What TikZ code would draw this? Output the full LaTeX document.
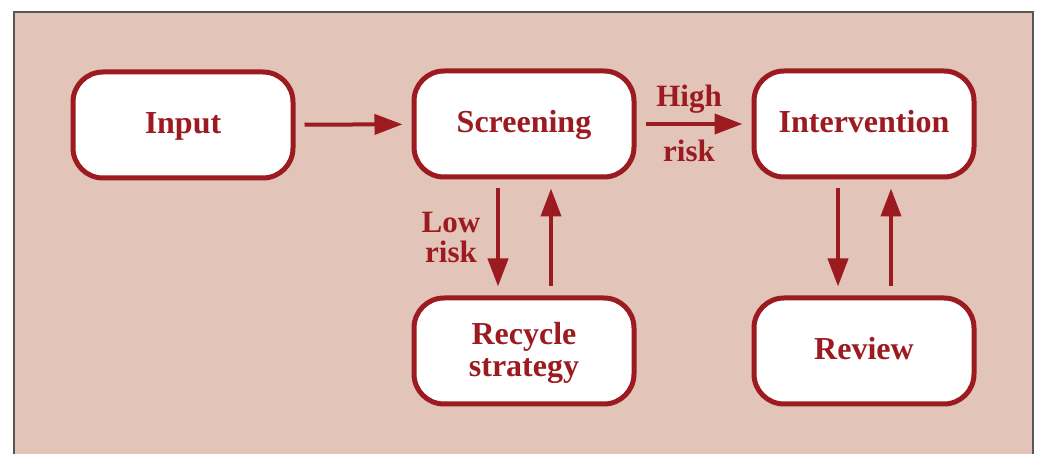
\documentclass[tikz,border=0pt]{standalone}
\usepackage{fontspec}
\setmainfont{Liberation Serif}
\usetikzlibrary{arrows.meta}
\definecolor{bg}{HTML}{E3C4B9}
\definecolor{dred}{HTML}{9B1B20}
\definecolor{frame}{HTML}{5A5656}
\tikzset{
  box/.style={draw=dred, line width=5pt, fill=white, rounded corners=30pt,
    minimum width=220pt, minimum height=106pt, align=center, text=dred,
    font=\fontsize{32}{32}\selectfont\bfseries, text height=21pt, text depth=3pt},
  lbl/.style={text=dred, align=center, inner sep=0pt, anchor=base,
    font=\fontsize{31}{31}\selectfont\bfseries},
  arr/.style={draw=dred, line width=4pt, -{Triangle[length=28pt,width=20pt]},
    shorten <=9pt, shorten >=9pt}
}
\begin{document}
\begin{tikzpicture}[x=1pt,y=-1pt]
\useasboundingbox (0,0) rectangle (1037,454);
\fill[white] (0,0) rectangle (1037,454);
\filldraw[fill=bg, draw=frame, line width=1.5pt] (14,480) -- (14,12) -- (1033,12) -- (1033,480);
\node[box] (in) at (183,125) {Input};
\node[box] (sc) at (524,124) {Screening};
\node[box] (iv) at (864,124) {Intervention};
\node[box] (rc) at (524,351) {};
\node[lbl, font=\fontsize{32}{32}\selectfont\bfseries] (rct) at (524,377) {Recycle\\strategy};
\node[box] (rv) at (864,351) {Review};
\draw[arr] (in) -- (sc);
\draw[arr] (sc) -- (iv);
\draw[arr] ([xshift=-26pt]sc.south) -- ([xshift=-26pt]rc.north);
\draw[arr] ([xshift=27pt]rc.north) -- ([xshift=27pt]sc.south);
\draw[arr] ([xshift=-26pt]iv.south) -- ([xshift=-26pt]rv.north);
\draw[arr] ([xshift=27pt]rv.north) -- ([xshift=27pt]iv.south);
\node[lbl] (hi) at (689,107) {High};
\node[lbl] (hr) at (689,162) {risk};
\node[lbl, font=\fontsize{31}{30}\selectfont\bfseries] (lo) at (451,263) {Low\\risk};
\end{tikzpicture}
\end{document}
